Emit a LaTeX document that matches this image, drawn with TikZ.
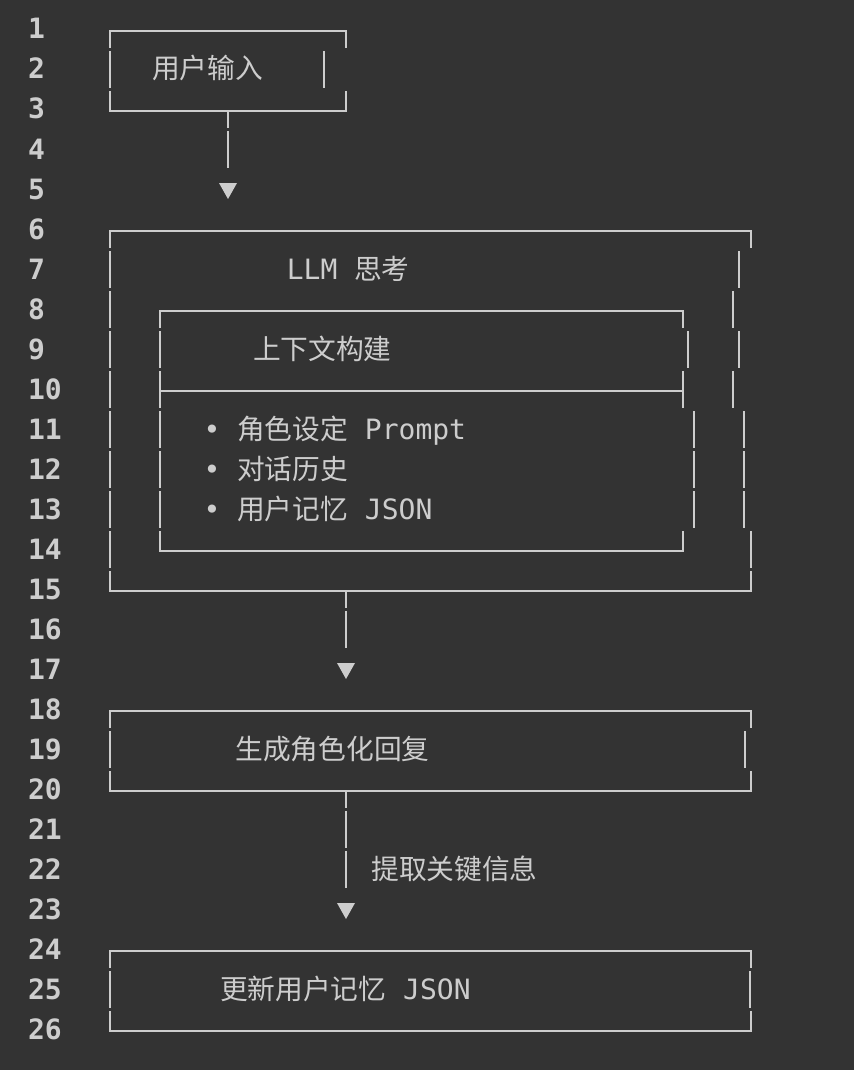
\documentclass[tikz,border=0pt]{standalone}
\usepackage{fontspec}
\setmainfont{DejaVu Sans Mono}
\newfontfamily\cjk[Scale=0.99]{Noto Sans CJK SC}
\definecolor{bg}{HTML}{333333}
\definecolor{fg}{HTML}{CDCDCD}
\newcommand\vb[2]{\draw[boxline] (#1,#2-20) -- (#1,#2+17);}
\newcommand\tri[1]{\fill[fg] ($(#1)+(-9,-8)$) -- ($(#1)+(9,-8)$) -- ($(#1)+(0,8)$) -- cycle;}
\usetikzlibrary{calc}
\begin{document}
\begin{tikzpicture}[x=1pt,y=-1pt,
  boxline/.style={draw=fg,line width=2.9pt,line join=miter},
  txt/.style={anchor=base west,inner sep=0pt,outer sep=0pt,text=fg,font=\fontsize{28pt}{40pt}\selectfont},
  lnum/.style={anchor=base west,inner sep=0pt,outer sep=0pt,text=fg,font=\fontsize{28pt}{40pt}\selectfont\bfseries}]
\fill[bg] (0,0) rectangle (854,1070);
% line numbers
\foreach \n in {1,...,26}{
  \pgfmathsetmacro\yy{31+40*(\n-1)+8}
  \node[lnum] (ln\n) at (28,\yy) {\n};
}
% ---- Box A: user input
\draw[boxline] (110,48) -- (110,31) -- (346,31) -- (346,48);
\vb{110}{71}\vb{324}{71}
\draw[boxline] (110,91) -- (110,111) -- (346,111) -- (346,91);
\node[txt] (input) at (152,79) {\cjk 用户输入};
% arrow 1
\coordinate (a1s) at (228,111);
\coordinate (a1t) at (228,191);
\draw[boxline] (a1s) -- ++(0,17);
\vb{228}{151}
\tri{a1t}
% ---- Box B: LLM thinking (outer)
\draw[boxline] (110,248) -- (110,231) -- (751,231) -- (751,248);
\foreach \c in {271,311,...,551}{\vb{110}{\c}}
\vb{739}{271}\vb{733}{311}\vb{739}{351}\vb{733}{391}
\vb{744}{431}\vb{744}{471}\vb{744}{511}\vb{751}{551}
\draw[boxline] (110,571) -- (110,591) -- (751,591) -- (751,571);
\node[txt] (llm) at (286.8,279) {LLM {\cjk 思考}};
% ---- Box C: context (inner)
\draw[boxline] (160,328) -- (160,311) -- (683,311) -- (683,328);
\vb{160}{351}\vb{688}{351}
\draw[boxline] (160,371) -- (160,408);
\draw[boxline] (160,391) -- (683,391);
\draw[boxline] (683,371) -- (683,408);
\foreach \c in {431,471,511}{\vb{160}{\c}\vb{694}{\c}}
\draw[boxline] (160,531) -- (160,551) -- (683,551) -- (683,531);
\node[txt] (ctx) at (253,359) {\cjk 上下文构建};
\node[txt] (it1) at (203.5,439) {• {\cjk 角色设定} Prompt};
\node[txt] (it2) at (203.5,479) {• {\cjk 对话历史}};
\node[txt] (it3) at (203.5,519) {• {\cjk 用户记忆} JSON};
% arrow 2
\coordinate (a2s) at (346,591);
\coordinate (a2t) at (346,671);
\draw[boxline] (a2s) -- ++(0,17);
\vb{346}{631}
\tri{a2t}
% ---- Box D: reply
\draw[boxline] (110,728) -- (110,711) -- (751,711) -- (751,728);
\vb{110}{751}\vb{745}{751}
\draw[boxline] (110,771) -- (110,791) -- (751,791) -- (751,771);
\node[txt] (reply) at (235.5,759) {\cjk 生成角色化回复};
% arrow 3
\coordinate (a3s) at (346,791);
\coordinate (a3t) at (346,911);
\draw[boxline] (a3s) -- ++(0,17);
\vb{346}{831}\vb{346}{871}
\tri{a3t}
\node[txt] (extract) at (371.3,879) {\cjk 提取关键信息};
% ---- Box E: update memory
\draw[boxline] (110,968) -- (110,951) -- (751,951) -- (751,968);
\vb{110}{991}\vb{750}{991}
\draw[boxline] (110,1011) -- (110,1031) -- (751,1031) -- (751,1011);
\node[txt] (update) at (220,999) {{\cjk 更新用户记忆} JSON};
\end{tikzpicture}
\end{document}
